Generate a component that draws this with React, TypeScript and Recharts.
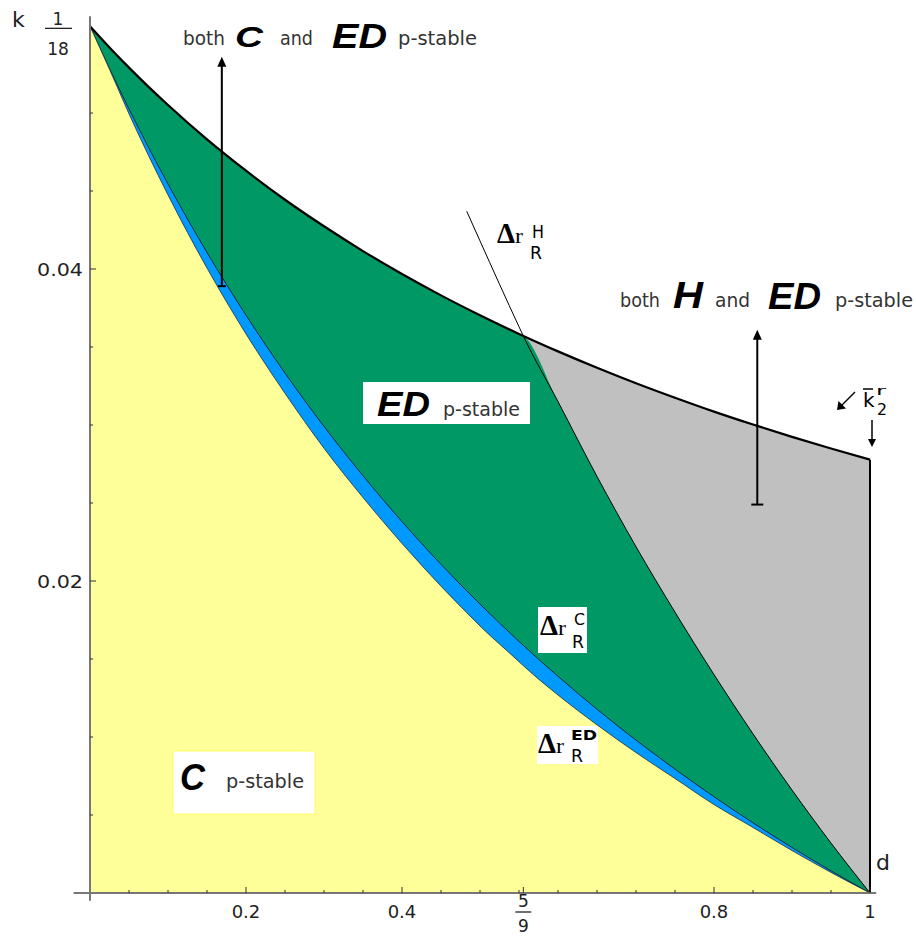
import { ComposedChart, Area, Line, XAxis, YAxis, ReferenceLine } from 'recharts'

// discount factor d, shared grid of the boundary curves
const D = [0, 0.025, 0.05, 0.1, 0.15, 0.2, 0.25, 0.3, 0.35, 0.4, 0.45, 0.483, 0.5, 0.55, 0.5556, 0.6, 0.65, 0.7, 0.75, 0.8, 0.85, 0.9, 0.95, 1]
// upper black curve (k bar 2 r)
const K_UPPER = [0.05556, 0.0542, 0.05291, 0.05051, 0.04831, 0.0463, 0.04444, 0.04274, 0.04115, 0.03968, 0.03831, 0.03746, 0.03704, 0.03584, 0.03571, 0.03472, 0.03367, 0.03268, 0.03175, 0.03086, 0.03003, 0.02924, 0.02849, 0.02778]
// Δr_R^C : border blue / green
const K_C = [0.05556, 0.05285, 0.05026, 0.04545, 0.04106, 0.03704, 0.03333, 0.02991, 0.02675, 0.02381, 0.02107, 0.01937, 0.01852, 0.01613, 0.01587, 0.01389, 0.01178, 0.0098, 0.00794, 0.00617, 0.0045, 0.00292, 0.00142, 0]
// Δr_R^ED : border yellow / blue
const K_ED = [0.05556, 0.0528, 0.04995, 0.04475, 0.04006, 0.03584, 0.03203, 0.02851, 0.02535, 0.02241, 0.01967, 0.01797, 0.01712, 0.01483, 0.01457, 0.01269, 0.01078, 0.009, 0.00734, 0.00567, 0.0042, 0.00272, 0.00132, 0]
// Δr_R^H : border green / grey, starts a bit above the upper curve
const K_H = [null, null, null, null, null, null, null, null, null, null, null, 0.0437, 0.0418, 0.0363, 0.0357, 0.0315, 0.0267, 0.0222, 0.018, 0.014, 0.0102, 0.0066, 0.0032, 0]
const D_CROSS = 0.5556 // Δr_R^H meets the upper curve

// the two vertical arrows: [d, k at bar, k at tip]
const ARROW_C_ED = [0.169, 0.0389, 0.0536]
const ARROW_H_ED = [0.8555, 0.0249, 0.0361]

const X_TICKS = [0.05, 0.1, 0.15, 0.2, 0.25, 0.3, 0.35, 0.4, 0.45, 0.5, 0.55, 5 / 9, 0.6, 0.65, 0.7, 0.75, 0.8, 0.85, 0.9, 0.95, 1]
const X_LABELS: Record<string, string> = { '0.2': '0.2', '0.4': '0.4', '0.8': '0.8', '1': '1' }
const Y_TICKS = [0.005, 0.01, 0.015, 0.02, 0.025, 0.03, 0.035, 0.04, 0.045, 0.05, 1 / 18]
const Y_LABELS: Record<string, string> = { '0.02': '0.02', '0.04': '0.04' }

const SANS = '"DejaVu Sans", Verdana, sans-serif'
const BOLD = '"Liberation Sans", Arial, sans-serif'
const SERIF = '"Liberation Serif", "Times New Roman", serif'

const data = D.map((d, i) => ({
  d,
  upper: K_UPPER[i],
  c: K_C[i],
  ed: K_ED[i],
  h: K_H[i],
  green: d <= D_CROSS ? K_UPPER[i] : K_H[i],
  grey: d >= D_CROSS ? K_UPPER[i] : null,
}))

function XTick({ x, y, payload }: any) {
  const v = payload.value
  const label = X_LABELS[String(v)]
  const frac = Math.abs(v - 5 / 9) < 1e-6
  const major = label !== undefined || frac
  return (
    <g>
      <line x1={x} x2={x} y1={y} y2={y - (major ? 6 : 3)} stroke="#333" />
      {label && (
        <text x={x} y={y + 25} textAnchor="middle" fontFamily={SANS} fontSize={18} fill="#222">{label}</text>
      )}
      {frac && (
        <g fontFamily={SANS} fontSize={17} fill="#222" textAnchor="middle">
          <text x={x} y={y + 13.5}>5</text>
          <line x1={x - 8} x2={x + 8} y1={y + 19} y2={y + 19} stroke="#222" strokeWidth={1.3} />
          <text x={x} y={y + 38.5}>9</text>
        </g>
      )}
    </g>
  )
}

function YTick({ x, y, payload }: any) {
  const v = payload.value
  const label = Y_LABELS[String(v)]
  if (Math.abs(v - 1 / 18) < 1e-9) {
    return (
      <g fontFamily={SANS} fill="#222">
        <text x={x - 78} y={y + 0.7} fontSize={22}>k</text>
        <text x={x - 32} y={y - 1.3} fontSize={17} textAnchor="middle">1</text>
        <line x1={x - 45} x2={x - 18} y1={y + 2} y2={y + 2} stroke="#222" strokeWidth={1.3} />
        <text x={x - 32} y={y + 28.7} fontSize={17} textAnchor="middle">18</text>
      </g>
    )
  }
  return (
    <g>
      <line x1={x} x2={x + (label ? 6 : 3)} y1={y} y2={y} stroke="#333" />
      {label && (
        <text x={x - 7} y={y + 6.5} textAnchor="end" fontFamily={SANS} fontSize={18} fill="#222" textLength={46} lengthAdjust="spacingAndGlyphs">{label}</text>
      )}
    </g>
  )
}

function ArrowUp({ x1, y1, x2, y2, bar }: any) {
  return (
    <g>
      <line x1={x1} y1={y1} x2={x2} y2={y2 + 6} stroke="#000" strokeWidth={2} />
      <path d={`M${x2},${y2} L${x2 - 4.5},${y2 + 10} L${x2 + 4.5},${y2 + 10} Z`} fill="#000" />
      <line x1={x1 - bar / 2} x2={x1 + bar / 2} y1={y1} y2={y1} stroke="#000" strokeWidth={2} />
    </g>
  )
}

function Small({ x, y, w, children }: any) {
  return (
    <text x={x} y={y} fontFamily={SANS} fontSize={19} fill="#333" textLength={w} lengthAdjust="spacingAndGlyphs">{children}</text>
  )
}

function Big({ x, y, w, size, children }: any) {
  return (
    <text x={x} y={y} fontFamily={BOLD} fontSize={size} fontWeight="bold" fontStyle="italic" fill="#000" textLength={w} lengthAdjust="spacingAndGlyphs">{children}</text>
  )
}

function DeltaR({ x, y, sup, supX, supY, supW, supSize, subX, subY }: any) {
  return (
    <g fill="#000">
      <text x={x} y={y} fontFamily={SERIF} fontWeight="bold" fontSize={29} textLength={18} lengthAdjust="spacingAndGlyphs">Δ</text>
      <text x={x + 18} y={y} fontFamily={SERIF} fontSize={22} textLength={8} lengthAdjust="spacingAndGlyphs">r</text>
      <text x={supX} y={supY} fontFamily={SANS} fontSize={supSize} fontWeight={sup === 'ED' ? 'bold' : 'normal'} textLength={supW} lengthAdjust="spacingAndGlyphs">{sup}</text>
      <text x={subX} y={subY} fontFamily={SANS} fontSize={17} textLength={12} lengthAdjust="spacingAndGlyphs">R</text>
    </g>
  )
}

function Overlay() {
  return (
    <svg width={916} height={938} style={{ position: 'absolute', left: 0, top: 0, pointerEvents: 'none' }}>
      {/* both C and ED p-stable */}
      <Small x={183} y={45} w={42}>both</Small>
      <Big x={235} y={47} w={28} size={30}>C</Big>
      <Small x={280} y={45} w={33}>and</Small>
      <Big x={332} y={48} w={55} size={35}>ED</Big>
      <Small x={398} y={45} w={79}>p-stable</Small>

      {/* both H and ED p-stable */}
      <Small x={620} y={307} w={40}>both</Small>
      <Big x={673} y={308} w={30} size={37}>H</Big>
      <Small x={715} y={307} w={35}>and</Small>
      <Big x={768} y={309} w={53} size={37}>ED</Big>
      <Small x={835} y={307} w={78}>p-stable</Small>

      {/* ED p-stable */}
      <rect x={363} y={382} width={167} height={42} fill="#fff" />
      <Big x={377} y={416} w={53} size={35}>ED</Big>
      <Small x={443} y={416} w={77}>p-stable</Small>

      {/* C p-stable */}
      <rect x={173} y={751} width={142} height={63} fill="#fff" stroke="#ffff66" />
      <Big x={180} y={790} w={25} size={37}>C</Big>
      <Small x={226} y={788} w={78}>p-stable</Small>

      {/* Δr labels */}
      <DeltaR x={497} y={243} sup="H" supX={532} supY={238} supW={12} supSize={17} subX={530} subY={259} />
      <rect x={538} y={607} width={49} height={46} fill="#fff" />
      <DeltaR x={540} y={635} sup="C" supX={574} supY={625} supW={11} supSize={16} subX={572} subY={648} />
      <rect x={537} y={726} width={61} height={38} fill="#fff" />
      <DeltaR x={538} y={753} sup="ED" supX={571} supY={740} supW={26} supSize={14} subX={571} subY={762} />

      {/* k bar 2 r */}
      <line x1={855} y1={392} x2={840} y2={407} stroke="#000" strokeWidth={1.5} />
      <path d="M837,410 L838.5,401 L846,408.5 Z" fill="#000" />
      <text x={863} y={407} fontFamily={SANS} fontSize={20} fill="#000">k</text>
      <line x1={863} x2={873} y1={389} y2={389} stroke="#000" strokeWidth={1.5} />
      <text x={876} y={395} fontFamily={SANS} fontSize={13} fill="#000" textLength={10} lengthAdjust="spacingAndGlyphs">r</text>
      <text x={877} y={415} fontFamily={SANS} fontSize={16} fill="#000" textLength={10} lengthAdjust="spacingAndGlyphs">2</text>
      <line x1={872} y1={420} x2={872} y2={442} stroke="#000" strokeWidth={1.5} />
      <path d="M872,447 L868,439 L876,439 Z" fill="#000" />

      <text x={876} y={870} fontFamily={SANS} fontSize={22} fill="#222">d</text>
    </svg>
  )
}

export default function App() {
  return (
    <div style={{ position: 'absolute', left: 0, top: 0, width: 916, height: 938, background: '#fff' }}>
      <ComposedChart width={916} height={938} data={data} margin={{ top: 16.3, right: 46, bottom: 0, left: 0 }}>
        <XAxis type="number" dataKey="d" domain={[0, 1]} ticks={X_TICKS} interval={0} axisLine={false} tickLine={false} tickSize={0} tickMargin={0} height={45} tick={(p: any) => <XTick {...p} />} />
        <YAxis type="number" domain={[0, 0.0562]} ticks={Y_TICKS} interval={0} axisLine={false} tickLine={false} tickSize={0} tickMargin={0} width={90} tick={(p: any) => <YTick {...p} />} />
        <Area type="monotone" dataKey="grey" baseValue={0} fill="#c0c0c0" fillOpacity={1} stroke="none" isAnimationActive={false} />
        <Area type="monotone" dataKey="green" baseValue={0} fill="#009966" fillOpacity={1} stroke="none" isAnimationActive={false} />
        <Area type="monotone" dataKey="c" baseValue={0} fill="#0099ff" fillOpacity={1} stroke="#0b2b3a" strokeWidth={1} isAnimationActive={false} />
        <Area type="monotone" dataKey="ed" baseValue={0} fill="#ffff99" fillOpacity={1} stroke="#1a2a40" strokeWidth={0.8} isAnimationActive={false} />
        <Line type="monotone" dataKey="h" stroke="#000" strokeWidth={1} dot={false} isAnimationActive={false} />
        <Line type="monotone" dataKey="upper" stroke="#000" strokeWidth={2.2} dot={false} isAnimationActive={false} />
        <ReferenceLine segment={[{ x: 1, y: 0 }, { x: 1, y: K_UPPER[K_UPPER.length - 1] }]} stroke="#000" strokeWidth={2} ifOverflow="visible" />
        <ReferenceLine segment={[{ x: -0.021, y: 0 }, { x: 1.008, y: 0 }]} stroke="#777" strokeWidth={2} ifOverflow="visible" />
        <ReferenceLine segment={[{ x: 0, y: -0.0005 }, { x: 0, y: 0.0562 }]} stroke="#777" strokeWidth={2} ifOverflow="visible" />
        <ReferenceLine
          segment={[{ x: ARROW_C_ED[0], y: ARROW_C_ED[1] }, { x: ARROW_C_ED[0], y: ARROW_C_ED[2] }]}
          ifOverflow="visible"
          shape={(p: any) => <ArrowUp {...p} bar={8} />}
        />
        <ReferenceLine
          segment={[{ x: ARROW_H_ED[0], y: ARROW_H_ED[1] }, { x: ARROW_H_ED[0], y: ARROW_H_ED[2] }]}
          ifOverflow="visible"
          shape={(p: any) => <ArrowUp {...p} bar={12} />}
        />
      </ComposedChart>
      <Overlay />
    </div>
  )
}
